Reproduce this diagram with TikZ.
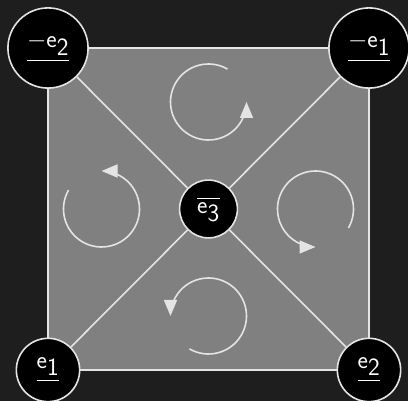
\documentclass[tikz,border=0pt]{standalone}
\usepackage{amsmath,amssymb}
\usepackage{xcolor}
\usepackage{tikz}
\usetikzlibrary{arrows.meta,positioning,calc}

\definecolor{bgdark}{HTML}{1E1E1E}
\definecolor{facegray}{HTML}{808080}
\definecolor{linewhite}{HTML}{E4E4E4}

\begin{document}
\begin{tikzpicture}[x=1pt,y=1pt,
  vertex/.style={circle,draw=linewhite,fill=black,line width=1.6pt,
                 text=white,inner sep=10.5pt,font=\fontsize{34}{40}\selectfont},
  edge/.style={linewhite,line width=1.6pt},
  spin/.style={linewhite,line width=1.6pt,-{Triangle[length=16pt,width=13pt]}}]
  \fill[bgdark] (0,0) rectangle (408,401);
  \useasboundingbox (0,0) rectangle (408,401);
  % corners of the face
  \coordinate (pnw) at (48,353);
  \coordinate (pne) at (369,353);
  \coordinate (psw) at (48,31);
  \coordinate (pse) at (369,31);
  \coordinate (pmid) at (208.5,192);
  \fill[facegray] (psw) rectangle (pne);
  % vertices
  \node[vertex] (mne2) at (pnw) {$\underline{-\mathsf{e}_{\mathsf{2}}}$};
  \node[vertex] (mne1) at (pne) {$\underline{-\mathsf{e}_{\mathsf{1}}}$};
  \node[vertex] (ve1) at (psw) {$\underline{\mathsf{e}_{\mathsf{1}}}$};
  \node[vertex] (ve2) at (pse) {$\underline{\mathsf{e}_{\mathsf{2}}}$};
  \node[vertex,inner sep=8.5pt] (ve3) at (pmid) {$\overline{\mathsf{e}_{\mathsf{3}}}$};
  % edges of the square and the diagonals
  \draw[edge] (mne2) -- (mne1);
  \draw[edge] (mne1) -- (ve2);
  \draw[edge] (ve2) -- (ve1);
  \draw[edge] (ve1) -- (mne2);
  \draw[edge] (mne2) -- (ve3);
  \draw[edge] (mne1) -- (ve3);
  \draw[edge] (ve1) -- (ve3);
  \draw[edge] (ve2) -- (ve3);
  % orientation of each triangle
  \coordinate (ctop) at (208.5,299);
  \coordinate (cleft) at (101.5,192);
  \coordinate (cright) at (315.5,192);
  \coordinate (cbot) at (208.5,85);
  \draw[spin] ($(ctop)+(60:38)$) arc[start angle=60,end angle=360,radius=38];
  \draw[spin] ($(cleft)+(150:38)$) arc[start angle=150,end angle=450,radius=38];
  \draw[spin] ($(cbot)+(240:38)$) arc[start angle=240,end angle=540,radius=38];
  \draw[spin] ($(cright)+(330:38)$) arc[start angle=330,end angle=630,radius=38];
\end{tikzpicture}
\end{document}
